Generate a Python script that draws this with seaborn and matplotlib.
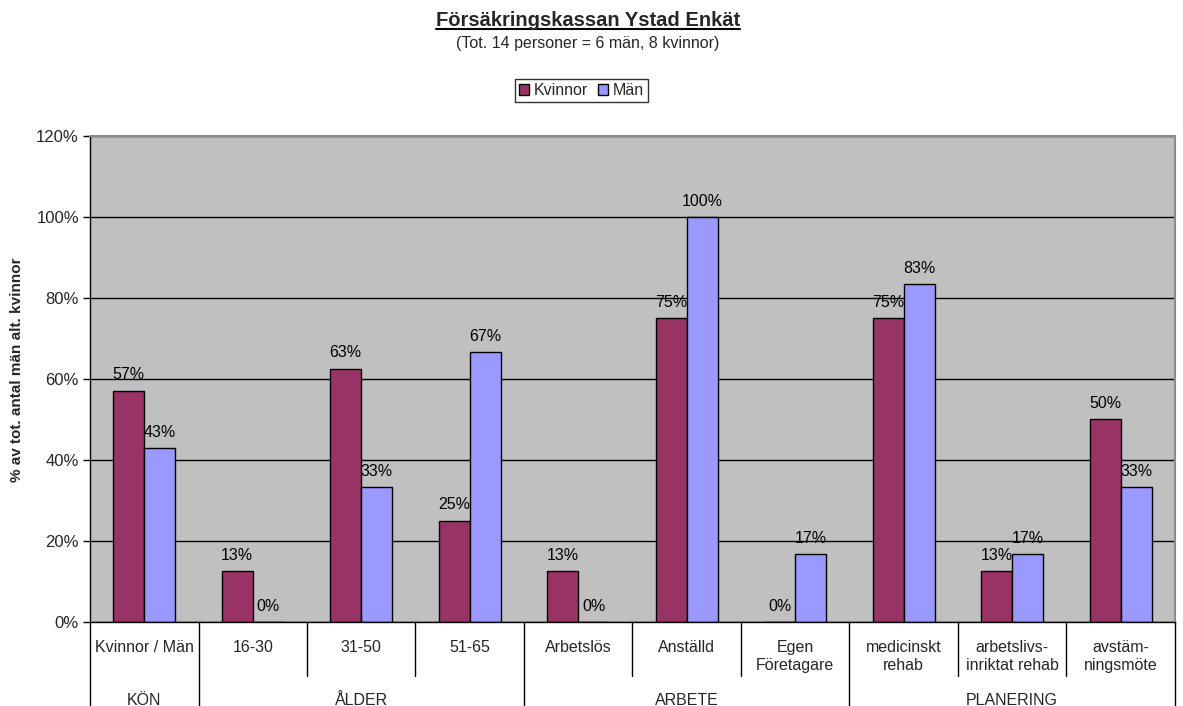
import numpy as np
import pandas as pd
import matplotlib
matplotlib.use("Agg")
import matplotlib.pyplot as plt
import seaborn as sns
from matplotlib.ticker import PercentFormatter
from matplotlib.lines import Line2D

categories = ['Kvinnor / Män', '16-30', '31-50', '51-65', 'Arbetslös', 'Anställd',
              'Egen\nFöretagare', 'medicinskt\nrehab', 'arbetslivs-\ninriktat rehab',
              'avstäm-\nningsmöte']
groups = ['KÖN', 'ÅLDER', 'ARBETE', 'PLANERING']
group_sizes = [1, 3, 3, 3]
kvinnor = [8 / 14, 1 / 8, 5 / 8, 2 / 8, 1 / 8, 6 / 8, 0, 6 / 8, 1 / 8, 4 / 8]
man = [6 / 14, 0, 2 / 6, 4 / 6, 0, 6 / 6, 1 / 6, 5 / 6, 1 / 6, 2 / 6]

df = pd.DataFrame({
    'Kategori': categories * 2,
    'Andel': kvinnor + man,
    'Kön': ['Kvinnor'] * len(categories) + ['Män'] * len(categories),
})

sns.set_style('white')
plt.rcParams['font.family'] = ['Liberation Sans', 'DejaVu Sans']

fig = plt.figure(figsize=(11.83, 7.06), dpi=100)
ax = fig.add_axes([0.0761, 0.119, 0.917, 0.6885])
ax.set_facecolor('#C0C0C0')

sns.barplot(data=df, x='Kategori', y='Andel', hue='Kön', order=categories,
            palette=['#993366', '#9999FF'], saturation=1, edgecolor='black',
            linewidth=1, width=0.571, gap=0, ax=ax, legend=True)

# värdeetiketter (avrundas uppåt vid ,5 som i Excel)
for cont in ax.containers:
    ax.bar_label(cont, labels=[f'{int(v * 100 + 0.5)}%' for v in cont.datavalues],
                 padding=6, fontsize=11.5, color='black')

ax.set_ylim(0, 1.2)
ax.set_yticks(np.arange(0, 1.21, 0.2))
ax.yaxis.set_major_formatter(PercentFormatter(1.0, decimals=0))
ax.tick_params(axis='y', direction='out', length=5, width=1, color='black',
               labelsize=12, pad=3, left=True)
ax.yaxis.grid(True, color='black', linewidth=1)
ax.set_axisbelow(True)
ax.set_xlim(-0.5, len(categories) - 0.5)
ax.set_xticks([])
ax.set_xlabel('')
ax.set_ylabel('% av tot. antal män alt. kvinnor', fontsize=11, fontweight='bold')
ax.yaxis.set_label_coords(-0.0605, 0.518)

for side in ['left', 'bottom']:
    ax.spines[side].set_color('black')
    ax.spines[side].set_linewidth(1)
for side in ['top', 'right']:
    ax.spines[side].set_color('#8C8C8C')
    ax.spines[side].set_linewidth(1.5)

# kategoriaxel i två nivåer
trans = ax.get_xaxis_transform()
for i, lab in enumerate(categories):
    ax.text(i, -0.038, lab, transform=trans, ha='center', va='top',
            fontsize=11.5, linespacing=1.25)
bounds = np.concatenate([[0], np.cumsum(group_sizes)])
for i in range(len(categories) + 1):
    bottom = -0.173 if i in bounds else -0.111
    ax.add_line(Line2D([i - 0.5, i - 0.5], [0, bottom], transform=trans,
                       color='black', linewidth=1, clip_on=False))
for g, a, b in zip(groups, bounds[:-1], bounds[1:]):
    ax.text((a + b - 1) / 2, -0.161, g, transform=trans, ha='center',
            va='center', fontsize=11.5)

leg = ax.legend(loc='center', bbox_to_anchor=(0.4915, 0.872),
                bbox_transform=fig.transFigure, ncol=2, fontsize=11.5,
                frameon=True, fancybox=False, edgecolor='black',
                handlelength=0.65, handleheight=0.65, handletextpad=0.3,
                columnspacing=0.6, borderpad=0.25, borderaxespad=0)
leg.get_frame().set_linewidth(1)
leg.set_title(None)

title = fig.text(0.497, 0.971, 'Försäkringskassan Ystad Enkät', ha='center',
                 va='center', fontsize=14.5, fontweight='bold')
fig.text(0.497, 0.938, '(Tot. 14 personer = 6 män, 8 kvinnor)', ha='center',
         va='center', fontsize=11.5)

# understrykning av titeln
fig.canvas.draw()
bb = title.get_window_extent().transformed(fig.transFigure.inverted())
fig.add_artist(Line2D([bb.x0, bb.x1], [bb.y0 + 0.002, bb.y0 + 0.002],
                      transform=fig.transFigure, color='black', linewidth=1.5))

fig.savefig('out.png', dpi=100)
